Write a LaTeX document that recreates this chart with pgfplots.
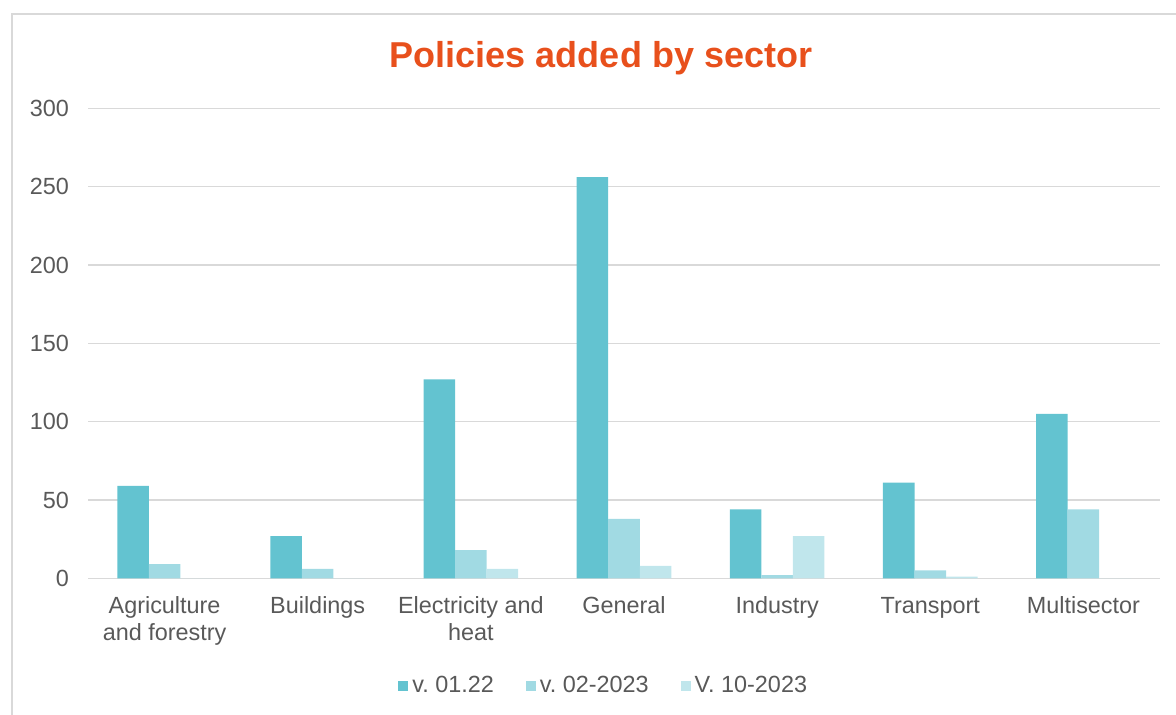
\documentclass[border=0pt]{standalone}
\usepackage{pgfplots}
\pgfplotsset{compat=1.18}
\usepackage{fontspec}
\setmainfont{Liberation Sans}
\frenchspacing
\definecolor{c1}{HTML}{63C3D0}
\definecolor{c2}{HTML}{A1DAE3}
\definecolor{c3}{HTML}{C0E6EC}
\definecolor{tc}{HTML}{595959}
\definecolor{gc}{HTML}{D9D9D9}
\definecolor{ttl}{HTML}{E8501C}
\begin{document}
\begin{tikzpicture}
\path[use as bounding box] (0,0) rectangle (588pt,357pt);
\draw[gc, line width=0.8pt] (6pt,-2pt) -- (6pt,350pt) -- (590pt,350pt);
\node[font=\fontsize{18}{20}\selectfont\bfseries, text=ttl] at (300.5pt,328pt) {Policies added by sector};
\begin{axis}[
  at={(44pt,67.85pt)}, anchor=south west,
  scale only axis, width=536pt, height=235pt,
  ybar=0pt, bar width=0.206,
  ymin=0, ymax=300, xmin=-0.5, xmax=6.5,
  xtick={0,...,6},
  xticklabels={{Agriculture\\and forestry},Buildings,{Electricity and\\heat},General,Industry,{\vphantom{l}Transport},Multisector},
  ytick={0,50,...,300},
  ymajorgrids, grid style={gc, line width=0.7pt},
  axis line style={draw=none},
  major tick length=0pt,
  /pgf/number format/assume math mode=true,
  tick label style={font=\fontsize{11.7}{13.5}\selectfont, text=tc},
  xticklabel style={align=center, yshift=-5.5pt},
  yticklabel style={xshift=-6pt},
  legend style={at={(0.482,-0.2295)}, anchor=center, draw=none, legend columns=3,
    font=\fontsize{11.7}{13.5}\selectfont, text=tc,
    /tikz/every even column/.append style={column sep=14pt}},
  legend image code/.code={\fill[#1] (0pt,-2.5pt) rectangle (5pt,2.5pt);},
]
\addplot[fill=c1, draw=none] coordinates {(0,59) (1,27) (2,127) (3,256) (4,44) (5,61) (6,105)};
\addplot[fill=c2, draw=none] coordinates {(0,9) (1,6) (2,18) (3,38) (4,2) (5,5) (6,44)};
\addplot[fill=c3, draw=none] coordinates {(0,0) (1,0) (2,6) (3,8) (4,27) (5,1) (6,0)};
\legend{v. 01.22,v. 02-2023,V. 10-2023}
\end{axis}
\end{tikzpicture}
\end{document}
